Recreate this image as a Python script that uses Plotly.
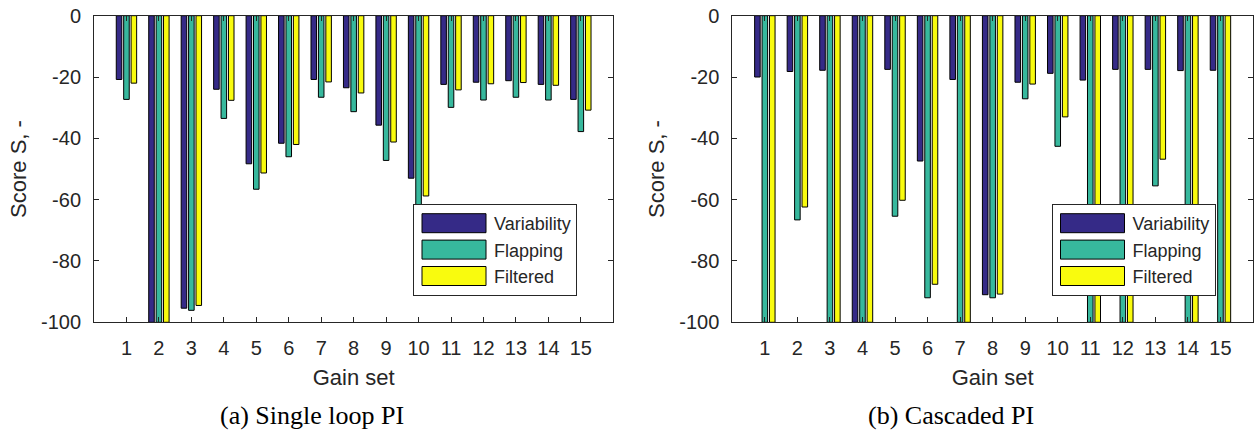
import plotly.graph_objects as go

# Gain sets on the x axis
gain_sets = list(range(1, 16))
series_names = ["Variability", "Flapping", "Filtered"]
series_colors = ["#352a87", "#37b89d", "#f9fb0e"]

# (a) Single loop PI scores
single_variability = [-20.8, -100, -95.4, -24.0, -48.3, -41.6, -20.8, -23.5, -35.7, -53.0,
                      -22.4, -21.7, -21.2, -22.4, -27.3]
single_flapping = [-27.3, -100, -96.1, -33.5, -56.6, -46.0, -26.6, -31.3, -47.2, -64.0,
                   -29.9, -27.5, -26.6, -27.5, -37.8]
single_filtered = [-22.0, -100, -94.5, -27.6, -51.3, -42.0, -21.6, -25.2, -41.2, -58.8,
                   -24.2, -22.2, -21.8, -22.7, -30.8]

# (b) Cascaded PI scores
cascaded_variability = [-20.0, -18.2, -17.8, -100, -17.5, -47.4, -20.8, -91.0, -21.7, -18.8,
                        -21.0, -17.5, -17.5, -17.9, -17.8]
cascaded_flapping = [-100, -66.6, -100, -100, -65.4, -92.0, -100, -92.0, -27.1, -42.6,
                     -100, -100, -55.5, -100, -100]
cascaded_filtered = [-100, -62.4, -100, -100, -60.2, -87.6, -100, -90.8, -22.3, -33.0,
                     -100, -100, -46.8, -100, -100]

y_ticks = [0, -20, -40, -60, -80, -100]

W, H = 1258, 435
SANS = "Liberation Sans, Arial, Helvetica, sans-serif"
SERIF = "Liberation Serif, Times New Roman, serif"
AXC = "#262626"

fig = go.Figure()

panels = [
    ("x", "y", "legend", [single_variability, single_flapping, single_filtered]),
    ("x2", "y2", "legend2", [cascaded_variability, cascaded_flapping, cascaded_filtered]),
]
for xa, ya, leg, series in panels:
    for name, color, vals in zip(series_names, series_colors, series):
        fig.add_trace(go.Bar(
            x=gain_sets, y=vals, name=name, xaxis=xa, yaxis=ya, legend=leg,
            marker=dict(color=color, line=dict(color="black", width=1)),
        ))

x_dom_a = [94 / W, 613.3 / W]
x_dom_b = [732.3 / W, 1253 / W]
y_dom = [1 - 322.3 / H, 1 - 15.7 / H]


def xaxis(domain, anchor):
    return dict(
        domain=domain, anchor=anchor, range=[0, 16], tickmode="array",
        tickvals=gain_sets, ticktext=[str(g) for g in gain_sets],
        ticks="inside", ticklen=5, tickcolor=AXC, showline=True, linecolor=AXC,
        linewidth=1, mirror="ticks", showgrid=False, zeroline=False, automargin=False,
        tickfont=dict(family=SANS, size=20, color=AXC), ticklabelstandoff=8,
        title=dict(text="Gain set", font=dict(family=SANS, size=22, color=AXC), standoff=11),
    )


def yaxis(anchor):
    return dict(
        domain=y_dom, anchor=anchor, range=[-100, 0], tickmode="array",
        tickvals=y_ticks, ticktext=[str(t) for t in y_ticks],
        ticks="inside", ticklen=5, tickcolor=AXC, showline=True, linecolor=AXC,
        linewidth=1, mirror="ticks", showgrid=False, zeroline=False, automargin=False,
        tickfont=dict(family=SANS, size=20, color=AXC), ticklabelstandoff=8,
        title=dict(text="Score S, -", font=dict(family=SANS, size=22, color=AXC), standoff=8),
    )


def legend(x):
    return dict(
        x=x, y=1 - 204 / H, xanchor="left", yanchor="top", bgcolor="white",
        bordercolor=AXC, borderwidth=1, itemwidth=70, traceorder="normal",
        font=dict(family=SANS, size=18, color=AXC),
        itemclick=False, itemdoubleclick=False,
    )


fig.update_layout(
    width=W, height=H, margin=dict(l=0, r=0, t=0, b=0, autoexpand=False),
    paper_bgcolor="white", plot_bgcolor="white",
    barmode="group", bargap=0.315, bargroupgap=0.25,
    xaxis=xaxis(x_dom_a, "y"), yaxis=yaxis("x"),
    xaxis2=xaxis(x_dom_b, "y2"), yaxis2=yaxis("x2"),
    legend=legend(413 / W), legend2=legend(1051.5 / W),
    annotations=[
        dict(text="(a) Single loop PI", x=312 / W, y=1 - 415 / H, xref="paper", yref="paper",
             xanchor="center", yanchor="middle", showarrow=False,
             font=dict(family=SERIF, size=26, color="black")),
        dict(text="(b) Cascaded PI", x=951 / W, y=1 - 415 / H, xref="paper", yref="paper",
             xanchor="center", yanchor="middle", showarrow=False,
             font=dict(family=SERIF, size=26, color="black")),
    ],
)

# Wide legend swatches for the bar series
widen_swatches = """
var gd = document.getElementById('{plot_id}');
gd.querySelectorAll('g.legendpoints path').forEach(function(p){
    p.setAttribute('d', 'M32,9.5H-32V-9.5H32Z');
});
"""

fig.write_html("out.html", post_script=widen_swatches)
